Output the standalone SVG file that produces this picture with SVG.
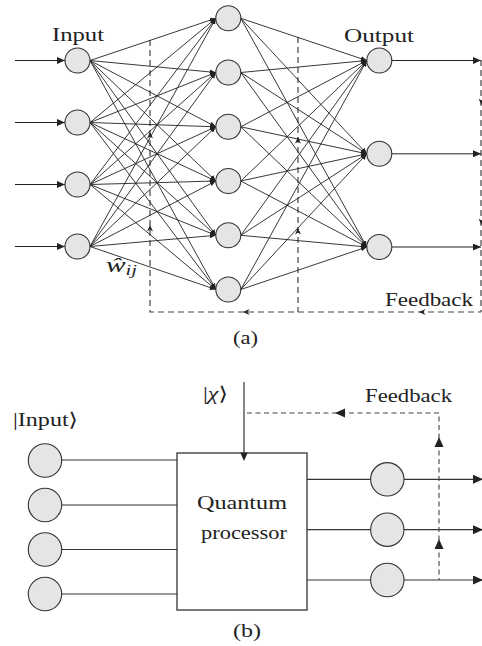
<svg xmlns="http://www.w3.org/2000/svg" width="482" height="646" viewBox="0 0 482 646">
<style>
  .node { fill:#e5e5e5; stroke:#333; stroke-width:1.1; }
  .w { stroke:#222; stroke-width:0.9; fill:none; marker-end:url(#as); }
  .io { stroke:#222; stroke-width:1; fill:none; marker-end:url(#am); }
  .d { stroke:#444; stroke-width:1.2; fill:none; stroke-dasharray:6 4; }
  .d2 { stroke:#444; stroke-width:1.1; fill:none; stroke-dasharray:5 3.5; }
  .ln { stroke:#333; stroke-width:1.2; fill:none; }
  .lnA { stroke:#333; stroke-width:1.2; fill:none; marker-end:url(#al); }
  .box { fill:none; stroke:#333; stroke-width:1.3; }
  text { font-size:19px; fill:#222; }
  .ah { fill:#222; }
</style>
<defs>
  <marker id="as" markerUnits="userSpaceOnUse" markerWidth="6" markerHeight="5" refX="6" refY="2.5" orient="auto">
    <path d="M0,0 L6,2.5 L0,5 z" fill="#222"/>
  </marker>
  <marker id="am" markerUnits="userSpaceOnUse" markerWidth="8" markerHeight="7" refX="8" refY="3.5" orient="auto">
    <path d="M0,0 L8,3.5 L0,7 z" fill="#222"/>
  </marker>
  <marker id="al" markerUnits="userSpaceOnUse" markerWidth="10" markerHeight="9" refX="10" refY="4.5" orient="auto">
    <path d="M0,0 L10,4.5 L0,9 z" fill="#222"/>
  </marker>
  <path id="st" d="M0,0 L-6.5,-3 L-4.5,0 L-6.5,3 z"/>
  <path id="big" d="M0,0 L-10,-4.5 L-10,4.5 z"/>
</defs>

<!-- (a) connectors -->
<g id="connectors-a">
  <g id="feedback-a">
    <path class="d" d="M150,40 V312 H481"/>
    <path class="d" d="M298,37 V312"/>
    <path class="d" d="M481,60 V312"/>
    <use href="#st" class="ah" transform="translate(150,132) rotate(-90)"/>
    <use href="#st" class="ah" transform="translate(150,225) rotate(-90)"/>
    <use href="#st" class="ah" transform="translate(298,137) rotate(-90)"/>
    <use href="#st" class="ah" transform="translate(298,228) rotate(-90)"/>
    <use href="#st" class="ah" transform="translate(243,312) rotate(180)"/>
    <use href="#st" class="ah" transform="translate(419,312) rotate(180)"/>
    <use href="#st" class="ah" transform="translate(481.5,105) rotate(90)"/>
    <use href="#st" class="ah" transform="translate(481.5,225) rotate(90)"/>
  </g>
  <g id="inputs-a">
    <line class="io" x1="15" y1="60.5" x2="65" y2="60.5"/>
    <line class="io" x1="15" y1="122.5" x2="65" y2="122.5"/>
    <line class="io" x1="15" y1="184.5" x2="65" y2="184.5"/>
    <line class="io" x1="15" y1="246.5" x2="65" y2="246.5"/>
  </g>
  <g id="outputs-a">
    <line class="io" x1="391.5" y1="60.5" x2="481" y2="60.5"/>
    <line class="io" x1="391.5" y1="153.8" x2="481" y2="153.8"/>
    <line class="io" x1="391.5" y1="247" x2="481" y2="247"/>
  </g>
  <g id="weights-ih">
    <line class="w" x1="90" y1="60.5" x2="215.8" y2="18.3"/>
    <line class="w" x1="90" y1="60.5" x2="215.8" y2="72.5"/>
    <line class="w" x1="90" y1="60.5" x2="215.8" y2="126.8"/>
    <line class="w" x1="90" y1="60.5" x2="215.8" y2="181"/>
    <line class="w" x1="90" y1="60.5" x2="215.8" y2="235.3"/>
    <line class="w" x1="90" y1="60.5" x2="215.8" y2="289.5"/>
    <line class="w" x1="90" y1="122.5" x2="215.8" y2="18.3"/>
    <line class="w" x1="90" y1="122.5" x2="215.8" y2="72.5"/>
    <line class="w" x1="90" y1="122.5" x2="215.8" y2="126.8"/>
    <line class="w" x1="90" y1="122.5" x2="215.8" y2="181"/>
    <line class="w" x1="90" y1="122.5" x2="215.8" y2="235.3"/>
    <line class="w" x1="90" y1="122.5" x2="215.8" y2="289.5"/>
    <line class="w" x1="90" y1="184.5" x2="215.8" y2="18.3"/>
    <line class="w" x1="90" y1="184.5" x2="215.8" y2="72.5"/>
    <line class="w" x1="90" y1="184.5" x2="215.8" y2="126.8"/>
    <line class="w" x1="90" y1="184.5" x2="215.8" y2="181"/>
    <line class="w" x1="90" y1="184.5" x2="215.8" y2="235.3"/>
    <line class="w" x1="90" y1="184.5" x2="215.8" y2="289.5"/>
    <line class="w" x1="90" y1="246.5" x2="215.8" y2="18.3"/>
    <line class="w" x1="90" y1="246.5" x2="215.8" y2="72.5"/>
    <line class="w" x1="90" y1="246.5" x2="215.8" y2="126.8"/>
    <line class="w" x1="90" y1="246.5" x2="215.8" y2="181"/>
    <line class="w" x1="90" y1="246.5" x2="215.8" y2="235.3"/>
    <line class="w" x1="90" y1="246.5" x2="215.8" y2="289.5"/>
  </g>
  <g id="weights-ho">
    <line class="w" x1="240.8" y1="18.3" x2="366.8" y2="60.5"/>
    <line class="w" x1="240.8" y1="18.3" x2="366.8" y2="153.8"/>
    <line class="w" x1="240.8" y1="18.3" x2="366.8" y2="247"/>
    <line class="w" x1="240.8" y1="72.5" x2="366.8" y2="60.5"/>
    <line class="w" x1="240.8" y1="72.5" x2="366.8" y2="153.8"/>
    <line class="w" x1="240.8" y1="72.5" x2="366.8" y2="247"/>
    <line class="w" x1="240.8" y1="126.8" x2="366.8" y2="60.5"/>
    <line class="w" x1="240.8" y1="126.8" x2="366.8" y2="153.8"/>
    <line class="w" x1="240.8" y1="126.8" x2="366.8" y2="247"/>
    <line class="w" x1="240.8" y1="181" x2="366.8" y2="60.5"/>
    <line class="w" x1="240.8" y1="181" x2="366.8" y2="153.8"/>
    <line class="w" x1="240.8" y1="181" x2="366.8" y2="247"/>
    <line class="w" x1="240.8" y1="235.3" x2="366.8" y2="60.5"/>
    <line class="w" x1="240.8" y1="235.3" x2="366.8" y2="153.8"/>
    <line class="w" x1="240.8" y1="235.3" x2="366.8" y2="247"/>
    <line class="w" x1="240.8" y1="289.5" x2="366.8" y2="60.5"/>
    <line class="w" x1="240.8" y1="289.5" x2="366.8" y2="153.8"/>
    <line class="w" x1="240.8" y1="289.5" x2="366.8" y2="247"/>
  </g>
</g>

<!-- (a) nodes -->
<g id="input-nodes-a">
  <g id="in1"><circle class="node" cx="77.5" cy="60.5" r="12.5"/></g>
  <g id="in2"><circle class="node" cx="77.5" cy="122.5" r="12.5"/></g>
  <g id="in3"><circle class="node" cx="77.5" cy="184.5" r="12.5"/></g>
  <g id="in4"><circle class="node" cx="77.5" cy="246.5" r="12.5"/></g>
</g>
<g id="hidden-nodes-a">
  <g id="h1"><circle class="node" cx="228.3" cy="18.3" r="12.5"/></g>
  <g id="h2"><circle class="node" cx="228.3" cy="72.5" r="12.5"/></g>
  <g id="h3"><circle class="node" cx="228.3" cy="126.8" r="12.5"/></g>
  <g id="h4"><circle class="node" cx="228.3" cy="181" r="12.5"/></g>
  <g id="h5"><circle class="node" cx="228.3" cy="235.3" r="12.5"/></g>
  <g id="h6"><circle class="node" cx="228.3" cy="289.5" r="12.5"/></g>
</g>
<g id="output-nodes-a">
  <g id="o1"><circle class="node" cx="379.3" cy="60.5" r="12.5"/></g>
  <g id="o2"><circle class="node" cx="379.3" cy="153.8" r="12.5"/></g>
  <g id="o3"><circle class="node" cx="379.3" cy="247" r="12.5"/></g>
</g>

<!-- (a) labels -->
<g id="labels-a" font-family="'Liberation Serif', 'Times New Roman', 'DejaVu Serif', serif">
  <text x="52" y="41" textLength="52" lengthAdjust="spacingAndGlyphs">Input</text>
  <text x="344" y="42" textLength="70" lengthAdjust="spacingAndGlyphs">Output</text>
  <text x="385" y="306" textLength="88" lengthAdjust="spacingAndGlyphs">Feedback</text>
  <text x="106" y="272" textLength="31" lengthAdjust="spacingAndGlyphs"><tspan font-style="italic" font-size="20">ŵ</tspan><tspan font-style="italic" font-size="14" dy="3">ij</tspan></text>
  <text x="233" y="344" textLength="25" lengthAdjust="spacingAndGlyphs">(a)</text>
</g>

<!-- (b) connectors -->
<g id="connectors-b">
  <line class="ln" x1="61.5" y1="460" x2="177" y2="460"/>
  <line class="ln" x1="61.5" y1="505" x2="177" y2="505"/>
  <line class="ln" x1="61.5" y1="549.5" x2="177" y2="549.5"/>
  <line class="ln" x1="61.5" y1="594" x2="177" y2="594"/>
  <line class="ln" x1="307" y1="479.3" x2="370.6" y2="479.3"/>
  <line class="ln" x1="307" y1="529.7" x2="370.6" y2="529.7"/>
  <line class="ln" x1="307" y1="580" x2="370.6" y2="580"/>
  <line class="lnA" x1="404" y1="479.3" x2="483" y2="479.3"/>
  <line class="lnA" x1="404" y1="529.7" x2="483" y2="529.7"/>
  <line class="lnA" x1="404" y1="580" x2="483" y2="580"/>
  <line class="ln" x1="244" y1="382" x2="244" y2="453"/>
  <use href="#big" class="ah" transform="translate(244,461) rotate(90) scale(0.85)"/>
  <g id="feedback-b">
    <path class="d2" d="M247,413 H439 V580"/>
    <use href="#big" class="ah" transform="translate(335,413) rotate(180)"/>
    <use href="#big" class="ah" transform="translate(439,437) rotate(-90)"/>
    <use href="#big" class="ah" transform="translate(439,539) rotate(-90)"/>
  </g>
</g>

<!-- (b) nodes -->
<g id="processor" font-family="'Liberation Serif', 'Times New Roman', 'DejaVu Serif', serif">
  <rect class="box" x="177" y="453" width="130" height="157"/>
  <text x="197" y="509" textLength="90" lengthAdjust="spacingAndGlyphs">Quantum</text>
  <text x="201" y="539" textLength="86" lengthAdjust="spacingAndGlyphs">processor</text>
</g>
<g id="input-nodes-b">
  <g id="qi1"><circle class="node" cx="45" cy="460.5" r="16.7"/></g>
  <g id="qi2"><circle class="node" cx="45" cy="505" r="16.7"/></g>
  <g id="qi3"><circle class="node" cx="45" cy="549.5" r="16.7"/></g>
  <g id="qi4"><circle class="node" cx="45" cy="594" r="16.7"/></g>
</g>
<g id="output-nodes-b">
  <g id="qo1"><circle class="node" cx="387.3" cy="479.3" r="16.7"/></g>
  <g id="qo2"><circle class="node" cx="387.3" cy="529.7" r="16.7"/></g>
  <g id="qo3"><circle class="node" cx="387.3" cy="580" r="16.7"/></g>
</g>

<!-- (b) labels -->
<g id="labels-b" font-family="'Liberation Serif', 'Times New Roman', 'DejaVu Serif', serif">
  <text x="13" y="426" textLength="65" lengthAdjust="spacingAndGlyphs">|Input⟩</text>
  <text x="203" y="400" textLength="25" lengthAdjust="spacingAndGlyphs">|<tspan font-style="italic">χ</tspan>⟩</text>
  <text x="365" y="402" textLength="87" lengthAdjust="spacingAndGlyphs">Feedback</text>
  <text x="233" y="637" textLength="28" lengthAdjust="spacingAndGlyphs">(b)</text>
</g>
</svg>
